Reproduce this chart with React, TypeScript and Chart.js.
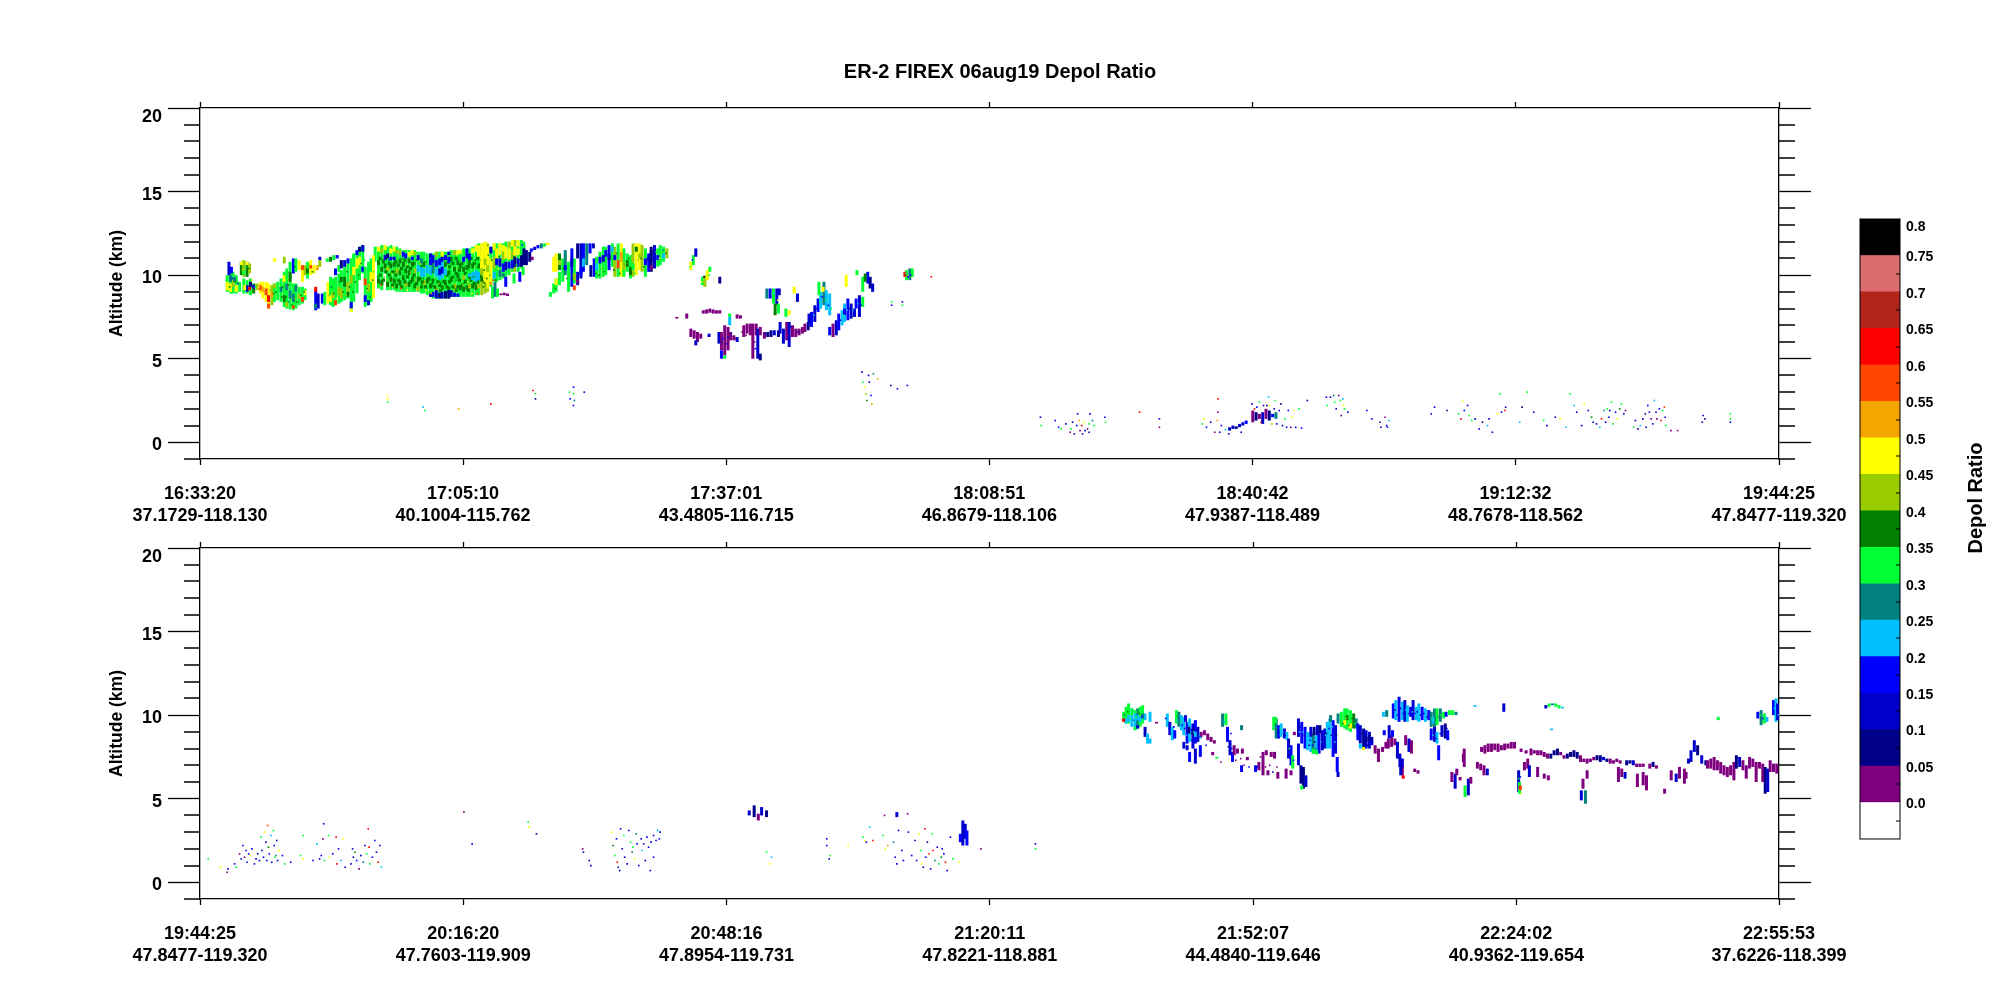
import { useEffect, useRef } from 'react';
import { Chart, registerables } from 'chart.js';

Chart.register(...registerables);

// [minutes since panel start, altitude low km, altitude high km, depol ratio]
type Cell = [number, number, number, number];
// [minutes since panel start, altitude km, depol ratio]
type Speck = [number, number, number];

const FONT = '"Liberation Sans", Arial, sans-serif';

const depolEdges = [-0.05, 0, 0.05, 0.1, 0.15, 0.2, 0.25, 0.3, 0.35, 0.4, 0.45, 0.5, 0.55, 0.6, 0.65, 0.7, 0.75, 0.8];
const depolColors = ['#ffffff', '#7f007f', '#00008b', '#0000cd', '#0000ff', '#00bfff', '#008080', '#00ff33', '#007f00', '#9acd00', '#ffff00', '#f5a500', '#ff4500', '#ff0000', '#b0241a', '#dc6b6b', '#000000'];
const depolTickLabels = ['0.0', '0.05', '0.1', '0.15', '0.2', '0.25', '0.3', '0.35', '0.4', '0.45', '0.5', '0.55', '0.6', '0.65', '0.7', '0.75', '0.8'];

const topTickMinutes = [0, 31.83, 63.68, 95.52, 127.37, 159.2, 191.08];
const topTimes = ['16:33:20', '17:05:10', '17:37:01', '18:08:51', '18:40:42', '19:12:32', '19:44:25'];
const topPositions = ['37.1729-118.130', '40.1004-115.762', '43.4805-116.715', '46.8679-118.106', '47.9387-118.489', '48.7678-118.562', '47.8477-119.320'];

const bottomTickMinutes = [0, 31.92, 63.85, 95.77, 127.7, 159.62, 191.47];
const bottomTimes = ['19:44:25', '20:16:20', '20:48:16', '21:20:11', '21:52:07', '22:24:02', '22:55:53'];
const bottomPositions = ['47.8477-119.320', '47.7603-119.909', '47.8954-119.731', '47.8221-118.881', '44.4840-119.646', '40.9362-119.654', '37.6226-118.399'];

const altitudeMajor = [0, 5, 10, 15, 20];
const altitudeMinor = [-1, 1, 2, 3, 4, 6, 7, 8, 9, 11, 12, 13, 14, 16, 17, 18, 19];

const westCells: Cell[] = [
  [3.3,9.0,10.0,.33],[3.7,8.9,10.3,.33],[4.0,8.9,10.2,.33],[4.4,8.9,10.0,.33],[4.8,9.0,9.6,.33],
  [3.5,10.0,10.8,.13],[3.8,10.1,10.5,.18],[3.3,9.1,9.6,.48],[3.7,9.0,9.5,.48],[4.0,9.3,9.7,.43],[4.4,9.0,9.4,.48],[3.7,9.6,10.0,.28],[4.2,9.6,9.9,.28],
  [5.0,10.0,10.8,.38],[5.3,9.9,10.9,.43],[5.7,9.9,10.8,.38],[6.0,10.1,10.7,.43],[5.0,10.6,10.8,.48],[5.7,10.6,10.8,.48],[5.3,10.0,10.3,.33],
  [5.3,8.9,9.8,.33],[5.7,8.9,9.7,.33],[6.1,8.8,9.8,.33],[6.5,8.9,9.5,.38],[6.9,9.1,9.5,.43],
  [5.7,9.0,9.4,.13],[6.0,9.1,9.3,.63],[6.1,9.3,9.6,.08],[5.4,9.1,9.4,.48],[6.5,9.2,9.4,.18],
  [7.3,8.9,9.6,.48],[7.6,8.6,9.6,.48],[8.0,8.4,9.6,.48],[8.3,8.0,9.5,.48],[8.7,8.2,9.4,.43],[9.0,8.4,9.5,.33],[9.4,8.5,9.6,.33],[9.8,8.4,9.8,.33],
  [7.3,9.1,9.4,.58],[7.6,9.0,9.3,.53],[8.0,8.8,9.2,.58],[8.3,8.4,8.8,.63],[8.3,8.0,8.3,.58],[8.7,8.7,9.0,.53],[9.0,9.2,9.5,.43],
  [10.2,8.1,10.2,.33],[10.5,8.0,10.4,.33],[10.9,7.95,10.8,.33],[11.3,7.9,9.5,.33],[11.3,10.1,11.0,.18],[11.6,8.0,9.5,.33],[11.6,10.2,11.0,.33],[12.0,8.2,9.3,.33],[12.0,10.3,10.9,.48],[12.4,8.3,9.3,.33],[12.4,9.6,10.6,.48],[12.7,8.5,9.2,.33],
  [10.2,9.6,10.0,.48],[10.5,9.1,9.5,.28],[10.9,8.6,9.1,.28],[11.3,8.4,8.9,.28],[11.6,9.0,9.4,.28],[10.9,9.6,10.2,.38],[10.2,8.4,8.8,.38],[12.0,8.6,8.9,.43],[10.5,8.1,8.4,.43],[11.3,8.0,8.2,.58],[12.4,8.4,8.7,.58],[12.7,8.8,9.1,.48],[9.8,9.0,9.3,.28],
  [13.0,9.8,10.8,.33],[13.4,10.0,10.9,.48],[13.8,10.1,10.6,.48],[14.2,10.3,10.6,.53],[14.5,10.5,10.9,.43],[12.7,10.0,10.6,.43],[13.0,10.1,10.4,.38],[12.4,10.3,10.6,.58],[13.4,10.4,10.6,.58],
  [9.0,10.8,11.0,.48],[10.2,10.7,11.1,.43],[14.5,10.9,11.1,.13],
  [15.4,10.8,11.0,.33],[15.8,10.8,11.1,.38],[16.2,10.9,11.2,.33],[16.6,11.0,11.2,.18],
  [14.0,7.9,9.1,.18],[14.3,8.0,8.9,.13],[14.0,8.0,8.3,.28],[14.0,9.0,9.3,.63],
];

const fanCells: Cell[] = [
  [14.8,8.3,8.9,.18],[15.1,8.2,9.0,.33],[15.5,8.3,9.6,.48],[15.8,8.2,9.9,.33],[16.1,8.1,9.8,.33],[16.4,8.2,9.9,.33],[16.8,8.3,10.1,.33],[17.1,8.4,10.3,.33],[17.5,8.5,10.5,.33],[17.9,8.6,10.9,.33],[18.3,7.8,11.0,.33],[18.6,8.4,11.2,.33],[19.0,8.9,11.4,.33],[19.3,9.7,11.7,.33],[19.7,10.1,11.8,.33],
  [15.8,8.4,8.8,.48],[16.1,8.6,9.0,.43],[16.4,8.2,8.5,.58],[16.8,8.8,9.3,.43],[17.1,8.6,9.2,.43],[17.5,9.3,9.9,.38],[17.9,9.0,9.6,.43],[18.3,9.5,10.0,.43],[18.6,10.0,10.5,.48],[19.0,10.4,11.0,.48],[19.3,10.6,11.1,.48],[17.9,8.7,9.0,.38],[17.1,9.6,9.9,.38],
  [16.4,10.0,10.4,.18],[16.8,10.2,10.6,.33],[17.1,10.4,10.9,.08],[17.5,10.5,10.9,.13],[17.9,10.7,11.0,.18],[18.3,8.0,8.4,.18],[18.3,7.8,8.0,.48],[18.6,11.0,11.3,.33],[19.3,11.4,11.7,.08],[19.7,11.4,11.8,.13],[19.0,11.2,11.5,.18],[19.7,10.2,10.5,.18],
  [20.0,8.1,10.5,.33],[20.4,8.2,10.8,.33],[20.7,8.4,11.0,.33],[21.0,8.6,11.2,.48],[20.0,8.4,8.8,.18],[20.4,9.0,9.5,.43],[20.7,9.6,10.2,.48],[20.4,8.2,8.5,.13],[20.0,9.4,9.8,.58],
];

const bodyCells: Cell[] = [
  [21.2,10.8,11.7,.33],[21.6,9.2,11.7,.33],[22.0,9.1,11.8,.33],[22.4,10.1,11.8,.33],[22.7,9.1,11.7,.33],[23.1,9.1,11.8,.33],[23.5,9.1,11.7,.33],[23.8,9.0,11.7,.33],[24.2,9.0,11.6,.33],[24.6,9.0,11.5,.33],[24.9,9.0,11.5,.33],[25.3,9.0,11.5,.33],[25.7,9.0,11.5,.33],[26.0,9.0,11.5,.33],[26.4,9.0,11.4,.33],[26.8,8.9,11.4,.33],[27.1,8.9,11.4,.33],[27.5,8.8,11.3,.33],[27.9,8.7,11.3,.33],[28.2,8.6,11.3,.33],[28.6,8.6,11.4,.33],[29.0,8.6,11.4,.33],[29.3,8.6,11.4,.33],[29.7,8.6,11.4,.33],[30.1,8.6,11.4,.33],[30.4,8.7,11.5,.33],[30.8,8.7,11.5,.33],[31.2,8.7,11.5,.33],[31.5,8.7,11.5,.33],[31.9,8.7,11.6,.33],[32.3,8.7,11.6,.33],[32.6,8.7,11.6,.33],[33.0,8.7,11.7,.33],[33.4,8.8,11.8,.33],[33.7,8.8,11.9,.33],[34.1,8.8,11.9,.43],[34.5,8.9,12.0,.43],[34.8,9.0,11.9,.43],[35.2,9.3,11.7,.33],[35.6,9.6,11.9,.33],[35.9,9.6,11.9,.33],[36.3,9.7,11.9,.33],[36.7,9.8,11.9,.33],[37.0,9.9,12.0,.33],[37.4,10.0,12.0,.33],[37.8,10.2,12.1,.33],[38.1,10.2,12.1,.43],[38.5,10.2,12.1,.33],[38.9,10.4,12.1,.33],[39.2,10.6,12.0,.33],
  // upper edge
  [21.6,11.4,11.7,.48],[22.0,11.3,11.6,.43],[22.4,11.5,11.8,.48],[23.1,11.3,11.6,.48],[23.5,11.4,11.7,.48],[23.8,11.3,11.5,.43],[24.2,11.2,11.5,.43],[25.3,11.1,11.4,.48],[25.7,11.2,11.5,.48],[26.0,11.2,11.4,.43],[24.6,11.1,11.4,.18],[24.9,11.0,11.3,.18],[22.7,11.0,11.3,.08],[23.5,10.9,11.1,.13],[27.9,11.0,11.3,.13],[28.2,11.0,11.2,.18],[28.6,11.1,11.4,.43],[29.3,11.1,11.4,.48],[30.1,11.2,11.4,.13],[30.8,11.2,11.5,.43],[31.2,11.2,11.5,.48],[31.5,11.3,11.5,.48],[32.3,11.3,11.6,.18],[33.0,11.3,11.6,.48],[33.4,11.4,11.8,.48],[35.6,11.5,11.9,.48],[36.3,11.5,11.9,.48],[36.7,11.4,11.8,.48],[37.4,11.6,12.0,.43],[37.8,11.7,12.1,.48],[38.5,11.7,12.1,.48],
  // dark green weave
  [21.6,9.5,9.8,.38],[21.6,10.6,10.9,.38],[22.0,9.4,9.7,.38],[22.0,10.2,10.5,.38],[22.4,10.4,10.7,.38],[22.7,9.3,9.6,.38],[22.7,10.2,10.5,.43],[23.1,10.4,10.7,.38],[23.1,9.6,9.9,.38],[23.5,9.5,9.8,.38],[23.5,10.5,10.8,.38],[23.8,10.1,10.4,.43],[23.8,9.2,9.5,.38],[24.2,9.4,9.7,.38],[24.2,10.7,11.0,.38],[24.2,10.0,10.3,.38],[24.6,9.7,10.0,.38],[24.6,10.5,10.8,.38],[24.9,9.3,9.6,.43],[24.9,10.1,10.4,.38],[25.3,10.0,10.3,.38],[25.3,9.3,9.6,.38],[25.3,10.7,11.0,.38],[25.7,9.6,9.9,.38],[25.7,10.5,10.8,.38],[26.0,9.2,9.5,.38],[26.0,10.1,10.4,.43],[26.4,9.6,9.9,.38],[26.4,9.1,9.3,.43],[26.8,9.2,9.5,.38],[26.8,10.3,10.6,.38],[27.1,10.5,10.8,.38],[27.1,9.4,9.7,.43],[27.5,9.5,9.8,.38],[27.9,9.2,9.5,.38],[28.2,9.5,9.8,.38],[28.6,9.0,9.3,.43],[29.0,9.3,9.6,.38],[29.3,9.1,9.4,.38],
  [29.7,9.4,9.7,.38],[29.7,10.5,10.8,.38],[30.1,9.0,9.3,.38],[30.1,10.0,10.3,.38],[30.4,9.6,9.9,.38],[30.4,10.8,11.1,.38],[30.8,9.2,9.5,.43],[30.8,10.2,10.5,.38],[31.2,9.8,10.1,.38],[31.2,9.2,9.4,.38],[31.2,10.6,10.9,.38],[31.5,9.1,9.4,.38],[31.5,10.4,10.7,.38],[31.9,9.7,10.0,.43],[31.9,9.0,9.3,.38],[31.9,10.2,10.5,.38],[32.3,10.3,10.6,.38],[32.3,9.1,9.4,.38],[32.6,9.8,10.1,.38],[32.6,10.6,10.9,.38],[32.6,9.2,9.5,.43],[33.0,9.2,9.5,.38],[33.0,10.4,10.7,.38],[33.4,9.9,10.2,.38],[33.4,9.1,9.4,.38],[33.7,10.4,10.7,.38],[33.7,9.2,9.5,.43],[34.1,9.6,9.9,.38],
  // second weave, offset between the columns above
  [21.8,9.9,10.1,.38],[21.8,10.9,11.1,.38],[22.2,9.6,9.8,.38],[22.2,10.7,10.9,.38],[22.5,10.1,10.3,.38],[22.9,9.9,10.1,.38],[22.9,10.6,10.8,.38],[23.3,9.3,9.5,.38],[23.3,10.1,10.3,.38],[23.7,9.9,10.1,.38],[23.7,10.7,10.9,.38],[24.0,9.6,9.8,.38],[24.0,10.5,10.7,.38],[24.4,9.2,9.4,.38],[24.4,10.3,10.5,.38],[24.8,9.5,9.7,.38],[24.8,10.8,11.0,.38],[25.1,9.8,10.0,.38],[25.1,10.4,10.6,.38],[25.5,9.5,9.7,.38],[25.5,10.3,10.5,.38],[25.9,9.9,10.1,.38],[25.9,10.6,10.8,.38],[26.2,9.4,9.6,.38],[26.6,9.7,9.9,.38],[26.9,9.5,9.7,.38],[27.3,9.2,9.4,.38],[27.7,9.7,9.9,.38],[28.0,9.3,9.5,.38],[28.4,9.2,9.4,.38],[28.8,9.5,9.7,.38],[29.1,9.0,9.2,.38],[29.5,9.5,9.7,.38],[29.9,9.2,9.4,.38],[29.9,9.9,10.1,.38],[30.2,9.5,9.7,.38],[30.2,10.4,10.6,.38],[30.6,9.2,9.4,.38],[30.6,9.8,10.0,.38],[30.6,10.6,10.8,.38],[31.0,9.0,9.2,.38],[31.0,10.0,10.2,.38],[31.0,10.9,11.1,.38],[31.4,9.6,9.8,.38],[31.4,10.2,10.4,.38],[31.7,9.3,9.5,.38],[31.7,10.6,10.8,.38],[32.1,9.5,9.7,.38],[32.1,10.0,10.2,.38],[32.5,9.0,9.2,.38],[32.5,10.4,10.6,.38],[32.8,9.6,9.8,.38],[32.8,10.9,11.1,.38],[33.2,9.4,9.6,.38],[33.2,10.6,10.8,.38],[33.6,9.5,9.7,.38],[33.6,10.9,11.1,.38],[33.9,9.9,10.1,.38],[34.3,9.5,9.7,.38],[34.7,9.3,9.5,.38],
  // west cyan and blue
  [26.4,10.2,10.6,.23],[26.8,9.9,10.5,.23],[27.1,9.9,10.4,.23],[27.5,10.1,10.6,.23],[27.9,10.0,10.5,.23],[28.2,10.1,10.7,.28],[28.6,9.9,10.4,.23],[29.0,9.7,10.6,.23],[29.3,9.8,10.8,.23],[29.7,10.0,10.4,.23],
  [27.9,10.6,11.0,.18],[28.2,10.7,11.0,.13],[28.6,10.5,10.9,.18],[29.0,10.6,11.0,.18],[29.3,10.8,11.1,.13],[29.7,10.9,11.2,.18],[30.1,10.7,11.1,.18],[29.0,10.0,10.4,.13],[29.3,10.1,10.5,.13],
  [22.4,10.9,11.2,.13],[23.1,10.9,11.1,.18],[25.7,10.9,11.1,.18],[26.4,10.9,11.2,.13],[26.8,10.7,11.0,.28],[31.9,10.8,11.1,.18],[32.3,11.0,11.3,.13],[32.6,10.9,11.3,.18],
  // bottom navy
  [28.6,8.6,9.1,.13],[29.0,8.6,8.95,.08],[29.3,8.6,9.0,.13],[29.7,8.6,9.05,.08],[30.1,8.6,9.1,.08],[30.4,8.7,9.1,.13],[30.8,8.7,8.95,.18],[31.2,8.7,8.9,.18],[28.2,8.7,9.0,.18],[27.9,8.7,8.9,.13],
  [33.0,9.7,10.2,.23],[33.4,9.6,10.3,.23],[33.7,9.7,10.2,.23],[32.6,9.9,10.1,.23],
  // yellow diagonal
  [33.7,11.1,11.8,.48],[34.1,10.4,11.9,.48],[34.5,9.6,12.0,.48],[34.8,9.2,11.7,.48],[35.2,9.6,11.0,.48],[35.6,10.4,11.1,.43],[34.1,9.2,9.6,.43],[34.5,9.1,9.4,.43],[34.8,10.2,10.6,.43],[34.1,10.0,10.4,.43],[34.5,10.6,11.0,.43],[35.2,9.4,9.6,.53],
  [35.9,11.0,11.6,.48],[36.3,11.2,11.5,.48],[36.7,10.9,11.4,.43],[37.0,11.0,11.7,.48],[37.4,10.9,11.6,.48],[37.8,11.0,11.5,.43],[38.1,11.2,11.7,.48],[38.5,11.2,11.6,.48],
  // upper blue
  [35.2,11.3,11.7,.13],[35.9,10.6,11.0,.18],[36.3,10.5,11.0,.13],[36.7,10.2,10.7,.18],[37.0,10.3,10.8,.13],[37.4,10.4,10.8,.18],[37.8,10.4,10.9,.18],[38.1,10.5,11.1,.08],[38.5,10.5,11.0,.13],[38.9,10.5,11.2,.08],[39.2,10.6,11.6,.08],[39.5,10.6,11.5,.08],[39.9,10.8,11.4,.08],[40.2,10.9,11.1,.03],
  [35.9,10.0,10.4,.33],[36.3,9.9,10.3,.28],[35.6,9.8,10.2,.23],[36.7,9.9,10.1,.28],
  // drips
  [35.4,8.6,9.3,.33],[35.7,8.7,9.6,.28],[36.0,8.7,9.2,.33],[36.4,8.8,8.9,.03],[36.8,8.8,8.95,.03],[37.2,8.75,8.9,.03],[37.0,9.3,9.9,.18],[38.0,9.5,10.1,.33],[38.7,9.6,10.2,.18],[39.1,10.0,10.5,.33],
  // eastern strip
  [40.1,11.4,11.6,.18],[40.5,11.5,11.7,.13],[40.9,11.6,11.8,.18],[41.3,11.6,11.9,.28],[41.7,11.7,11.9,.33],[42.1,11.8,11.95,.48],
];

const bodyGrainSpecks: Speck[] = [
  [21.5,9.9,.38],[21.7,10.3,.33],[21.9,9.4,.58],[22.1,10.9,.38],[22.3,9.9,.43],[22.6,10.8,.33],[22.8,9.7,.43],[22.9,10.9,.18],[23.2,10.1,.43],[23.3,9.3,.53],[23.6,10.2,.38],[23.7,11.2,.33],[23.9,9.8,.33],[24.1,10.4,.43],[24.3,9.2,.58],[24.4,10.2,.33],[24.5,11.0,.38],[24.8,9.9,.33],[25.0,10.6,.43],[25.1,9.1,.48],[25.5,10.1,.43],[25.6,9.4,.33],[25.8,10.2,.33],[26.1,9.7,.43],[26.2,10.9,.38],[26.3,9.1,.53],[26.6,10.7,.43],[26.7,9.4,.33],[27,9.8,.38],[27.3,10.8,.38],[27.4,9.1,.48],[27.6,9.3,.33],[27.8,9.7,.38],[28,8.9,.53],[28.4,9.6,.33],[28.5,9.2,.38],[28.9,9.5,.43],[29.1,9.2,.33],[29.5,9.7,.38],[29.9,9.6,.33],[30,10.7,.38],[30.3,9.4,.33],[30.6,10.0,.33],[30.7,9.1,.43],[31,9.7,.38],[31.1,10.4,.43],[31.4,9.5,.33],[31.7,10.1,.33],[31.8,9.4,.43],[32.1,9.7,.38],[32.2,10.0,.33],[32.4,9.6,.48],[32.8,10.2,.33],[32.9,8.9,.48],[33.1,9.9,.38],[33.3,10.9,.38],[33.5,10.6,.33],[33.6,8.9,.58],[33.9,10.9,.43],[34.0,9.9,.38],[34.3,9.3,.38],[34.4,10.3,.38],[34.7,9.8,.38],[34.9,11.2,.38],[35.1,10.0,.43],[35.3,10.9,.38],[35.5,9.7,.58],[35.8,9.7,.38],[36.1,10.4,.48],[36.2,11.1,.38],[36.6,10.8,.33],[36.9,10.9,.33],[37.2,10.2,.33],[37.5,10.9,.33],[37.7,10.3,.43],[38.0,11.1,.38],[38.3,10.6,.33],[38.7,11.2,.33],[39.0,11.8,.18],
  [3.2,9.7,.33],[3.6,9.3,.38],[3.9,9.8,.18],[4.1,9.2,.33],[4.3,9.6,.38],[4.6,9.5,.18],[5.1,10.3,.43],[5.5,10.5,.33],[5.9,10.4,.38],[6.3,9.7,.48],[6.7,9.3,.33],[7.1,9.3,.48],[8.5,9.1,.43],[8.9,8.9,.38],[9.2,9.0,.38],[9.6,9.1,.33],[9.9,8.7,.38],[10.0,9.3,.38],[10.4,8.7,.38],[10.4,9.9,.33],[10.7,8.4,.28],[10.7,9.4,.38],[11.1,8.2,.38],[11.1,9.4,.33],[11.5,8.6,.43],[11.5,10.5,.38],[11.8,8.4,.38],[11.8,9.1,.33],[12.2,8.8,.38],[12.6,9.0,.28],[13.2,10.6,.43],[13.6,10.2,.38],[14.1,10.5,.48],
  [15.6,8.8,.43],[15.9,9.3,.38],[16.2,8.9,.38],[16.3,9.5,.33],[16.6,8.6,.48],[16.9,9.6,.38],[17.3,9.0,.38],[17.7,8.8,.43],[17.8,10.2,.38],[18.1,9.3,.38],[18.2,8.7,.33],[18.5,9.0,.38],[18.8,9.6,.38],[19.2,10.0,.38],[19.5,10.7,.38],[19.9,10.9,.33],[20.2,9.2,.38],[20.5,10.2,.33],[20.6,8.7,.38],[20.9,9.7,.38],[21.0,10.2,.33],
  [43,9.2,.38],[43.4,9.9,.43],[44,10.4,.38],[44.4,9.8,.38],[44.8,10.0,.33],[45.1,9.8,.38],[47.9,10.1,.38],[48.3,10.0,.38],[48.6,10.4,.43],[48.9,10.2,.38],[49.3,10.4,.33],[49.7,11.0,.38],[50.1,10.3,.38],[50.4,11.3,.38],[50.8,10.1,.38],[51.2,10.2,.33],[51.5,10.7,.33],[51.9,11.0,.38],[52.3,10.7,.33],[52.6,10.1,.33],[53,10.9,.43],[53.4,11.0,.38],[53.7,10.5,.38],[55.2,11.4,.33],[55.6,11.0,.48],[56,11.5,.28],[56.4,11.3,.38],
];

const finCells: Cell[] = [
  [42.4,8.7,9.0,.33],[42.8,8.9,9.5,.33],[42.8,10.2,11.1,.48],[43.1,9.0,9.8,.33],[43.1,10.2,11.3,.48],[43.5,9.4,10.2,.33],[43.5,10.3,11.3,.38],[43.9,9.6,11.0,.33],[44.2,10.0,11.5,.28],[44.6,9.0,10.8,.33],[45.0,9.3,11.6,.18],[45.3,9.5,11.0,.33],[45.7,9.4,10.2,.13],[45.7,11.0,11.9,.08],[46.1,9.8,11.9,.13],[46.4,10.2,11.9,.18],[46.8,10.6,11.9,.28],[47.2,11.3,11.9,.18],[47.6,11.6,11.9,.13],
  [43.1,9.4,9.8,.48],[43.5,10.6,10.9,.43],[44.2,10.3,10.6,.18],[45.0,10.5,11.0,.13],[45.3,9.7,10.1,.43],[45.7,9.5,9.7,.03],[45.3,9.1,9.4,.58],[46.1,10.0,10.4,.18],[46.4,10.5,11.0,.23],
  [47.3,9.9,10.6,.08],[47.7,9.9,11.0,.18],[48.0,9.8,11.1,.33],[48.4,9.8,11.4,.33],[48.8,9.9,11.7,.33],[49.1,10.0,11.7,.33],[49.5,10.3,11.8,.18],[49.9,10.5,11.9,.33],[50.2,9.9,11.7,.43],[50.6,9.9,11.9,.33],[51.0,9.9,11.9,.48],[51.3,9.9,11.6,.33],[51.7,10.2,11.3,.33],[52.1,9.8,11.2,.33],[52.4,9.9,11.9,.43],[52.8,10.0,11.9,.48],[53.2,10.3,11.9,.48],[53.5,10.2,11.8,.43],[53.9,9.9,11.6,.33],[54.3,10.2,11.3,.18],[54.6,10.2,11.7,.08],[55.0,10.4,11.8,.13],[55.4,10.5,11.6,.33],[55.7,10.6,11.8,.33],[56.1,10.8,11.7,.33],[56.5,11.0,11.6,.43],
  [48.0,10.3,10.7,.23],[48.4,10.7,11.1,.18],[48.8,10.8,11.2,.13],[49.1,11.1,11.5,.18],[49.5,10.9,11.3,.13],[49.9,11.4,11.7,.23],[50.6,10.4,10.9,.58],[51.0,10.8,11.4,.53],[50.2,10.9,11.2,.18],[51.3,10.3,10.8,.43],[51.7,10.5,10.9,.38],[52.1,10.0,10.5,.38],[52.4,10.3,10.7,.33],[52.8,11.4,11.7,.38],[53.2,11.0,11.3,.43],[53.9,10.6,11.0,.18],[54.3,10.8,11.1,.13],[54.6,10.8,11.5,.08],[55.0,10.7,11.2,.13],[54.6,10.3,10.6,.03],[55.4,10.9,11.2,.18],[56.1,11.0,11.3,.23],
];

const midCloudCells: Cell[] = [
  // small fins
  [59.4,10.3,10.8,.48],[59.7,10.6,11.2,.33],[60.0,11.1,11.6,.13],[60.8,9.4,9.9,.33],[61.1,9.3,10.0,.43],[61.4,9.7,10.3,.48],[61.7,10.2,10.5,.33],[62.9,9.5,9.9,.08],
  // purple lower deck
  [57.7,7.4,7.5,.03],[58.9,7.4,7.7,.03],[60.9,7.7,7.9,.03],[61.3,7.7,7.95,.03],[61.7,7.75,8.0,.03],[62.1,7.7,7.95,.03],[62.5,7.7,7.9,.03],[62.9,7.7,7.9,.03],
  [59.4,6.3,6.8,.03],[59.8,6.2,6.7,.03],[60.2,6.0,6.6,.03],[60.6,6.2,6.5,.03],[60.0,5.8,6.1,.13],[61.6,6.3,6.5,.13],
  [62.8,5.9,6.6,.13],[63.1,5.5,6.6,.03],[63.5,5.2,7.0,.03],[63.9,5.5,6.9,.03],[64.2,6.1,6.6,.03],[64.6,6.1,6.4,.03],[65.0,6.0,6.3,.13],[63.1,5.0,5.5,.18],[63.5,5.0,5.2,.33],[64.1,7.0,7.5,.23],[64.1,7.5,7.7,.33],
  [65.0,7.4,7.65,.03],[65.4,7.4,7.6,.03],
  [65.8,6.3,7.0,.03],[66.2,6.5,7.1,.03],[66.6,6.4,7.1,.03],[66.9,5.0,7.1,.03],[67.3,6.4,7.1,.03],[67.5,5.0,6.8,.13],[67.8,6.4,6.9,.03],[67.8,4.9,5.3,.08],
  [68.3,6.2,6.6,.03],[68.7,6.3,6.6,.08],[69.1,6.3,6.7,.08],[69.5,6.4,6.7,.13],[70.0,6.3,6.7,.08],[70.2,6.5,7.2,.13],[70.6,5.9,6.8,.13],
  [71.0,6.1,7.2,.03],[71.3,5.7,7.2,.13],[71.7,6.3,7.0,.03],[72.1,6.3,6.8,.03],[72.5,6.4,6.8,.03],[72.9,6.5,6.9,.03],[73.2,6.6,7.1,.03],[73.6,6.7,7.2,.08],
  // rising blue and cyan
  [74.0,6.9,7.8,.18],[74.4,7.2,8.2,.13],[74.8,7.8,8.6,.18],[73.7,7.0,7.7,.13],[75.1,8.0,9.0,.23],[75.5,8.2,9.6,.28],[75.8,7.9,9.1,.23],[76.2,7.6,8.9,.23],[74.9,8.8,9.6,.33],[75.4,9.0,9.3,.48],
  [76.6,6.3,7.1,.03],[77.0,6.4,7.3,.13],[77.3,6.7,7.7,.18],[77.7,7.0,7.9,.23],[78.0,7.2,8.3,.23],[78.4,7.3,8.6,.18],[78.8,7.4,8.3,.13],[79.2,7.5,8.0,.13],[76.2,6.4,6.9,.18],[78.0,7.6,8.0,.18],
  [79.4,8.0,8.6,.18],[79.8,7.5,8.8,.13],[80.2,8.1,8.7,.33],[79.5,10.0,10.3,.33],[80.8,9.5,10.2,.18],[81.1,9.2,9.9,.08],[81.4,9.0,9.5,.13],[78.2,9.3,10.0,.48],[80.2,9.0,9.9,.33],[80.5,9.6,10.1,.38],
  [68.6,8.6,9.2,.28],[69.0,8.6,9.2,.18],[69.4,8.3,9.2,.33],[69.8,8.2,9.2,.13],[70.1,8.8,9.2,.13],[69.6,7.6,8.3,.38],[70.0,7.7,8.3,.33],[70.9,7.5,8.0,.33],[71.3,7.6,7.9,.48],[71.9,8.9,9.3,.48],[72.3,8.4,8.9,.13],
  [85.5,9.7,10.3,.33],[85.9,9.7,10.4,.28],[86.2,9.9,10.4,.33],[85.3,9.9,10.2,.63],
];

const midGrainSpecks: Speck[] = [
  [59.3,10.5,.33],[59.6,10.9,.18],[60.7,9.6,.48],[61,9.9,.13],[61.6,10.0,.33],[63.1,6.0,.13],[63.3,6.2,.18],[63.7,5.9,.13],[63.9,6.3,.13],[64.3,6.5,.13],[64.8,6.2,.03],[65.6,6.6,.03],[66.1,6.4,.03],[67.1,6.0,.03],[67.2,5.6,.18],[68.4,6.5,.13],[71.2,6.4,.03],[71.5,6.9,.13],[72.3,6.6,.13],[74.3,7.6,.23],[74.6,8.0,.13],[75,8.4,.33],[75.3,8.7,.18],[75.7,8.5,.33],[76,8.2,.18],[76.4,8.0,.33],[77.5,7.3,.13],[77.9,7.6,.33],[78.3,7.9,.23],[78.6,8.0,.08],[79,7.9,.23],[79.6,8.3,.23],[80,8.2,.18],[69.2,8.9,.33],[69.5,8.9,.23],[69.9,8.5,.48],[85.4,10.1,.33],[85.7,9.9,.18],[86,10.0,.13],[88.5,9.9,.63],[85,8.4,.13],[85,8.2,.33],[83.7,8.4,.33],[83.7,8.2,.18],
];

const nearWestClusterSpecks: Speck[] = [
  [22.7,2.4,.33],[22.7,2.6,.48],[22.7,2.8,.48],[27,2.1,.23],[27.2,1.9,.33],[31.3,2.0,.53],[35.2,2.3,.63],[40.3,3.1,.63],[40.6,2.9,.33],[40.6,2.6,.08],[44.7,3.0,.33],[44.8,2.6,.18],[45.2,3.3,.18],[45.2,2.9,.33],[45.3,2.5,.28],[45.2,2.2,.18],[46.5,3.0,.13],
  [80.1,4.2,.13],[80.2,3.6,.33],[80.4,3.3,.48],[80.6,2.9,.43],[80.9,4.0,.13],[81.0,3.6,.13],[81.2,2.8,.18],[81.3,2.3,.53],[81.5,4.1,.28],[80.7,2.5,.38],[82.0,3.8,.53],[83.6,3.4,.08],[84.4,3.2,.13],[85.6,3.4,.13],
  [101.7,1.5,.13],[101.8,1.0,.33],[103.5,1.3,.18],[103.9,0.9,.18],[104.2,0.8,.33],[104.8,1.1,.13],[105.3,0.6,.03],[105.4,0.8,.33],[105.6,1.2,.13],[105.8,0.5,.13],[106.1,1.0,.18],[106.2,1.7,.13],[106.4,1.3,.53],[106.5,0.7,.03],[106.7,1.0,.63],[106.8,0.5,.13],[107.0,1.2,.48],[107.1,0.7,.13],[107.4,0.8,.03],[107.6,1.1,.33],[107.6,0.6,.08],[107.7,1.7,.13],[108.0,1.3,.28],[108.2,1.0,.33],[109.5,1.5,.13],[109.6,1.2,.33],
  [113.7,1.8,.63],[116.1,1.4,.13],[116.1,0.9,.03],[121.3,1.1,.33],[121.5,1.4,.48],[121.8,0.9,.18],[122.3,1.2,.13],[122.8,0.6,.03],[123.1,1.3,.53],[123.2,2.6,.63],[123.2,1.8,.03],[123.6,1.0,.18],
];

const nearCoreCells: Cell[] = [
  [127.4,1.2,1.9,.03],[127.8,1.3,1.8,.08],[128.2,1.4,1.7,.03],[128.6,1.1,1.8,.13],[129.0,1.4,2.0,.03],[129.4,1.3,1.9,.08],[129.8,1.5,1.7,.18],[130.2,1.4,1.8,.28],
  [124.6,0.7,0.9,.13],[125.0,0.8,1.0,.13],[125.4,0.8,0.95,.08],[125.8,0.9,1.1,.13],[126.2,1.0,1.2,.13],[126.6,1.1,1.3,.18],
];

const farEastSpecks: Speck[] = [
  [123.4,0.6,.13],[124.1,0.75,.23],[124.5,0.5,.13],[126,0.6,.13],[127.3,2.3,.13],[127.6,2.0,.63],[127.9,2.1,.18],[128.2,2.4,.33],[128.4,1.2,.63],[128.7,2.2,.13],[129.1,2.2,.08],[129.3,2.7,.23],[129.4,2.2,.48],[129.7,1.1,.43],[130,2.0,.13],[130.1,2.5,.33],[130.3,1.1,.13],[130.6,1.9,.13],[130.8,2.3,.08],[131,1.0,.13],[131.3,1.4,.33],[131.5,0.9,.13],[131.7,1.9,.18],[132,0.9,.03],[132.2,1.5,.48],[132.4,1.9,.48],[132.6,0.9,.13],[133,2.0,.33],[133.3,0.85,.18],[134,2.5,.13],
  [136.3,2.7,.18],[136.4,2.2,.33],[136.8,2.7,.13],[137.2,2.8,.28],[137.3,2.4,.33],[137.5,2.0,.13],[137.8,2.8,.03],[138,2.5,.33],[138.1,1.6,.03],[138.3,2.6,.23],[138.4,2.2,.48],[138.5,2.0,.33],[138.9,1.8,.13],[141.2,1.9,.13],[141.8,1.4,.13],[142.8,1.2,.13],[143.4,1.5,.03],[143.6,1.0,.13],[143.7,0.9,.13],[143.9,1.3,.23],[142.9,0.9,.13],
  [149,1.7,.13],[149.4,2.1,.13],[150.9,1.9,.08],[152.3,1.7,.33],[152.6,1.4,.63],[152.8,2.5,.48],[153,1.9,.18],[153.4,2.2,.13],[153.6,1.6,.33],[153.9,1.3,.33],[154.3,1.4,.13],[154.8,0.8,.13],[155.2,1.2,.08],[155.8,1.0,.23],[156,1.4,.13],[156.4,0.6,.13],
  [157,1.7,.48],[157.3,2.9,.33],[157.5,1.8,.13],[157.9,1.9,.63],[158,2.1,.13],[159.7,1.2,.23],[160,2.1,.08],[160.6,3.0,.33],
  [161.4,1.8,.13],[162.6,1.3,.33],[163,1.0,.13],[164,1.5,.13],[164.6,1.4,.48],[165.3,0.9,.23],[165.8,2.9,.33],[166.3,2.2,.23],[166.6,1.8,.13],[167.2,1.0,.13],[167.5,2.3,.48],[168,1.9,.13],[168.4,1.5,.38],[168.6,1.2,.13],
  [169,1.1,.13],[169.4,0.9,.23],[169.6,1.4,.63],[169.9,1.9,.28],[170.1,1.2,.13],[170.3,2.0,.33],[170.5,1.5,.18],[170.6,1.9,.13],[170.8,2.4,.33],[171,1.1,.33],[171.3,1.8,.13],[171.5,1.4,.48],[171.8,2.0,.38],[172.0,2.3,.33],[172.3,1.7,.18],[172.5,1.9,.03],
  [173.5,0.9,.33],[173.7,1.3,.13],[174,0.8,.08],[174.3,1.0,.23],[174.6,1.4,.13],[174.9,1.7,.08],[175,0.9,.13],[175.2,2.2,.18],[175.4,1.8,.13],[175.6,1.4,.03],[175.8,1.1,.13],[176,2.5,.23],[176.2,1.8,.13],[176.3,1.4,.03],[176.6,2.0,.18],[176.8,1.3,.63],[177.0,1.9,.33],[177.2,2.1,.58],[177.3,1.5,.18],[177.4,1.0,.33],
  [178,0.7,.03],[178.8,0.7,.03],[181.8,1.2,.13],[181.9,1.6,.13],[182.1,1.4,.08],[185.2,1.7,.33],[185.2,1.4,.33],[185.2,1.2,.13],
];

const lowWestSpecks: Speck[] = [
  [1,1.4,.33],[2.5,0.9,.48],[3.3,0.6,.03],[3.4,0.8,.13],[4.2,1.1,.18],[4.4,0.9,.33],[4.8,1.7,.03],[5,1.4,.13],[5.2,2.2,.13],[5.4,1.5,.03],[5.6,1.9,.18],[5.7,1.2,.13],[5.9,1.7,.18],[6.1,1.6,.48],[6.3,2.0,.13],[6.6,1.1,.13],[6.8,1.4,.18],[7,1.7,.13],[7.2,1.3,.18],[7.4,2.7,.33],[7.5,1.9,.13],[7.7,1.5,.18],[7.8,3.0,.48],[8,2.4,.13],[8.1,1.3,.18],[8.2,3.4,.58],[8.3,2.1,.38],[8.4,1.7,.18],[8.6,2.8,.23],[8.7,1.2,.13],[8.9,3.1,.33],[9,2.2,.18],[9.1,1.5,.33],[9.2,1.6,.28],[9.3,2.5,.13],[9.4,1.3,.13],[9.6,1.9,.48],[10,1.6,.18],[10.3,1.1,.33],[11,1.2,.13],[12.2,1.6,.33],[12.5,1.4,.48],[12.5,2.8,.33],
  [13.7,1.3,.13],[14.2,2.3,.23],[14.5,1.4,.13],[14.7,1.6,.18],[14.9,2.6,.03],[15,3.5,.13],[15.1,1.3,.33],[15.6,2.8,.33],[15.7,1.5,.48],[16.1,1.7,.18],[16.5,2.7,.63],[16.6,1.1,.63],[16.8,2.0,.13],[17.1,1.3,.23],[17.4,2.6,.48],[17.6,0.9,.13],[18.3,1.1,.13],[18.5,2.0,.13],[18.6,1.5,.13],[18.8,1.8,.38],[19,1.3,.18],[19.3,0.8,.03],[19.5,1.6,.13],[19.8,1.2,.28],[20,2.2,.13],[20.2,1.7,.33],[20.4,3.2,.63],[20.5,2.1,.63],[20.6,1.1,.33],[20.9,1.5,.18],[21.2,2.5,.18],[21.4,1.8,.13],[21.6,1.2,.63],[21.8,2.2,.13],[22,0.9,.23],
  [32,4.2,.03],[33,2.3,.13],[39.8,3.6,.33],[39.9,3.3,.48],[40.8,2.9,.13],
  [46.4,2.0,.03],[46.5,1.8,.13],[47.2,1.3,.13],[47.4,1.0,.13],[49.9,3.0,.48],[50.1,2.2,.38],[50.3,1.6,.33],[50.5,2.6,.13],[50.6,1.2,.63],[50.7,0.9,.13],[50.9,0.7,.13],[51,3.2,.13],[51.2,2.0,.18],[51.4,2.8,.33],[51.5,1.5,.13],[51.8,1.1,.18],[52,3.1,.13],[52.2,2.4,.33],[52.4,1.8,.38],[52.5,2.1,.33],[52.7,1.4,.48],[52.9,2.9,.28],[53,2.3,.18],[53.2,1.0,.13],[53.5,2.6,.13],[53.6,1.9,.23],[53.8,2.3,.13],[54,1.3,.13],[54.2,2.7,.18],[54.4,2.1,.13],[54.6,0.7,.13],[54.7,2.4,.18],[55,1.5,.13],[55,2.8,.18],[55.3,2.5,.13],[55.5,3.1,.23],[55.7,2.6,.18],[55.8,3.0,.13],
  [68.7,1.8,.33],[69.1,1.1,.48],[69.3,1.5,.23],
  [76,2.2,.13],[76,2.6,.13],[76.3,1.4,.13],[76.4,1.6,.33],[78.6,2.2,.48],[80.4,2.7,.33],[80.6,2.5,.48],[80.8,2.4,.18],[81.2,3.3,.23],[81.6,2.5,.63],[82.8,2.8,.33],[83,4.0,.03],[83.1,2.0,.48],[83.4,2.2,.53],[84.1,2.4,.28],[84.3,1.5,.13],[84.5,1.1,.18],[84.7,3.1,.13],[85.1,1.9,.13],[85.3,1.3,.13],[85.8,4.1,.03],[85.9,3.0,.13],[86.3,1.6,.18],[86.7,2.5,.13],[86.9,1.3,.13],[87.2,2.9,.48],[87.4,1.9,.33],[87.5,1.1,.48],[87.7,0.9,.13],[87.9,3.2,.63],[88,1.5,.18],[88.2,2.4,.13],[88.4,1.7,.58],[88.6,0.8,.13],[88.8,2.9,.33],[88.9,1.9,.63],[89.1,1.3,.28],[89.4,2.1,.13],[89.6,1.1,.33],[89.9,1.5,.38],[90,2.0,.13],[90.2,1.7,.18],[90.4,1.2,.63],[90.6,0.7,.13],[91,2.7,.13],[91.3,1.4,.33],[92,1.2,.48],[94.7,2.0,.03],[101.3,2.3,.13],[101.3,2.0,.33],
];

const lowWestCells: Cell[] = [
  [66.6,4.0,4.3,.13],[67.2,3.9,4.6,.08],[67.7,3.7,4.1,.03],[68.1,4.0,4.5,.13],[68.7,3.9,4.3,.08],
  [92.2,2.4,2.9,.18],[92.5,2.2,3.7,.13],[92.8,2.6,3.5,.13],[93,2.2,3.1,.18],[84.5,3.9,4.2,.13],
];

const eastBandCellsA: Cell[] = [
  [112,9.6,10.2,.33],[112.3,9.5,10.5,.33],[112.6,9.5,10.7,.33],[113,9.3,10.4,.23],[113.4,9.1,10.3,.23],[113.7,9.2,10.4,.28],[114,9.3,10.5,.33],[114.3,9.5,10.6,.33],[114.6,9.7,10.1,.23],
  [112.3,9.5,9.8,.23],[112.6,9.6,10.0,.23],[113,10.0,10.4,.33],[113.4,10.1,10.3,.33],[113.7,9.7,10.0,.23],[114,9.6,9.9,.23],[114.3,9.8,10.1,.28],[113.4,9.1,9.3,.33],[112,9.6,9.8,.63],[113.7,9.2,9.4,.13],
  [114.6,8.7,9.3,.13],[114.9,8.3,8.9,.23],[115.2,8.3,8.6,.23],[115.2,9.6,10.2,.23],[116,9.5,9.6,.03],
  [117.3,9.3,10.1,.23],[117.6,8.8,9.6,.13],[117.9,8.5,9.3,.23],[118.2,8.6,9.1,.18],
  [118.4,9.5,10.3,.33],[118.7,9.3,10.2,.28],[119,9.1,10.0,.23],[119.3,8.8,9.9,.23],[119.7,8.3,9.6,.18],[120,8.4,9.8,.23],[120.4,8.0,9.5,.13],[120.7,8.3,9.7,.18],[121,8.4,9.3,.13],[121.3,8.6,8.9,.23],
  [119.5,9.6,10.0,.13],[119.9,8.9,9.3,.08],[120.4,8.8,9.2,.08],[120.7,8.7,9.0,.23],[119.7,7.9,8.2,.13],[120,7.2,7.8,.18],[120.7,7.1,8.0,.13],[121.3,7.5,8.2,.18],[119.3,8.0,8.4,.13],
  [121.4,8.7,9.0,.03],[121.8,8.8,9.1,.03],[122.2,8.5,8.9,.03],[122.6,8.4,8.7,.03],[123,8.3,8.5,.03],[122.8,7.6,7.8,.03],[123.3,7.4,7.5,.33],
  [124,9.3,10.1,.28],[124.4,9.4,10.1,.33],[124.6,8.4,9.3,.18],[124.9,7.6,8.5,.13],[125.2,7.2,7.8,.18],[125.4,7.6,8.2,.03],[125.8,7.7,8.0,.03],[126.4,7.7,8.0,.03],[126.3,9.1,9.4,.28],[127,7.3,7.5,.03],[126.3,6.6,7.0,.18],
  [128,6.6,7.0,.18],[128.4,6.7,7.2,.03],[128.9,6.4,7.8,.03],[129.3,7.6,7.9,.03],[129.9,7.5,7.8,.03],[130.3,7.4,7.8,.03],[129.5,6.4,6.7,.03],[130.7,6.2,6.6,.03],
  [130.2,9.1,9.9,.33],[130.5,8.6,9.8,.28],[130.8,8.6,9.4,.18],[131.1,8.7,9.5,.23],[131.5,8.6,9.2,.13],[131.8,8.5,9.0,.23],[130.4,9.5,9.9,.33],
  [132,7.4,8.6,.13],[132.3,7.0,8.2,.18],[132.5,6.8,7.6,.33],[131.7,6.2,6.8,.03],[132.3,6.4,6.7,.03],[132.7,8.8,9.0,.03],
];

const eastBandCellsB: Cell[] = [
  [133.2,7.0,8.3,.13],[133.5,5.9,7.0,.08],[133.8,5.6,6.9,.08],[134.1,5.7,6.4,.13],[133.6,5.55,5.8,.33],
  [133.2,8.7,9.8,.13],[133.6,8.3,9.6,.18],[134,8.0,9.3,.18],[134.3,7.9,9.0,.23],[134.7,7.8,9.0,.23],[135,7.7,8.9,.28],[135.4,7.7,8.8,.23],[135.7,7.7,8.9,.18],[136.1,7.9,9.1,.13],
  [134.7,8.7,9.3,.13],[135.1,8.8,9.3,.08],[135.5,8.8,9.4,.13],[135.8,8.9,9.4,.08],[135,7.7,8.0,.33],[135.4,7.65,7.9,.33],[134.4,8.3,8.7,.23],
  [136.4,8.0,9.2,.13],[136.7,8.0,9.6,.23],[137,8.0,9.8,.23],[137.4,7.5,9.7,.18],[137.7,7.7,9.4,.13],[137.9,6.6,7.5,.18],[138,6.3,6.6,.13],[137.1,9.6,10.0,.28],
  [138,9.5,10.1,.28],[138.4,9.3,10.2,.33],[138.8,9.2,10.4,.33],[139.1,9.1,10.4,.33],[139.5,9.0,10.3,.33],[139.9,9.2,10.1,.38],[140.2,9.2,9.8,.28],[138.8,9.4,9.7,.48],[139.1,9.7,10.0,.38],[139.5,9.2,9.5,.48],
  [140.4,8.5,9.5,.18],[140.7,8.3,9.4,.13],[141.1,8.0,9.2,.08],[141.4,8.0,9.1,.13],[141.8,8.0,9.0,.13],[142.1,8.2,8.7,.13],[140.7,8.0,8.3,.23],[141.4,8.4,8.7,.08],[141.1,7.9,8.1,.48],[141.8,8.5,8.8,.08],
  [142.5,7.7,8.2,.03],[142.9,7.2,8.0,.03],[143.4,7.8,8.1,.03],[143.8,8.0,8.4,.03],[144.1,8.0,8.6,.03],[144.5,8.1,8.8,.03],[144.9,8.2,8.6,.03],[144.2,8.6,9.4,.13],[144.6,8.7,9.1,.18],[143.6,8.8,9.1,.18],
  [145.2,7.4,8.4,.13],[145.5,6.9,7.7,.13],[145.8,6.4,7.0,.03],[145.9,6.2,6.4,.63],[145.8,6.9,7.4,.13],
  [143.5,9.9,10.2,.23],[143.9,9.9,10.3,.28],[144.7,9.8,10.7,.18],[145,9.7,10.9,.23],[145.4,9.6,11.1,.18],[145.8,9.7,10.8,.23],[146.1,9.6,10.9,.13],[146.4,9.6,10.6,.23],[146.8,9.9,10.5,.18],[147.1,9.7,10.9,.13],[147.5,9.7,10.5,.23],[147.8,9.6,10.7,.23],[148.2,9.7,10.5,.18],[148.6,9.6,10.4,.23],[149,9.7,10.3,.18],
  [149.3,9.3,10.2,.28],[149.7,9.3,10.4,.28],[150,9.4,10.4,.33],[150.4,9.6,10.4,.28],[150.8,9.8,10.2,.33],[151.1,9.9,10.2,.18],[151.5,10.0,10.3,.33],[151.9,10.0,10.3,.33],[152.3,10.0,10.2,.28],[149.5,9.5,9.9,.23],
  [149.3,8.5,9.2,.18],[149.7,8.4,9.3,.13],[150,8.3,9.0,.23],[150.6,8.7,9.4,.13],[151,8.6,9.5,.08],[151.3,8.5,9.1,.18],[150.2,7.3,8.2,.18],
  [146.2,8.2,8.8,.03],[146.6,7.8,8.6,.13],[146.9,7.7,8.5,.03],[145.6,6.4,7.4,.13],[147.3,6.6,6.8,.03],[147.7,6.5,6.7,.03],
  [151.8,6.0,6.6,.03],[152.2,5.6,6.5,.13],[152.4,6.4,6.8,.03],[152.8,6.1,6.3,.03],[153.4,5.1,5.8,.33],[153.8,5.2,6.2,.13],[154.1,5.9,6.3,.03],[153.2,7.2,7.7,.03],[153.3,6.9,8.0,.03],
  [154.9,6.8,7.2,.03],[155.3,6.7,7.1,.03],[155.7,6.4,7.0,.03],[156.1,6.4,6.8,.13],[154.6,10.5,10.6,.23],[158.1,10.2,10.7,.13],[163.2,10.4,10.6,.13],[163.6,10.5,10.7,.33],[164,10.6,10.7,.28],[164.4,10.5,10.7,.33],[164.8,10.4,10.6,.33],[165.2,10.4,10.5,.23],[163.9,9.1,9.2,.23],[184.1,9.7,9.9,.33],
  [188.9,9.8,10.2,.18],[189.3,9.4,10.3,.28],[189.7,9.5,10.1,.33],[190,9.6,9.9,.23],[190.8,10.0,10.9,.18],[191.1,9.6,11.0,.23],[191.3,9.7,10.7,.13],
];

const eastGrainSpecks: Speck[] = [
  [112.1,10.0,.28],[112.5,10.2,.38],[112.8,9.8,.33],[113.2,9.7,.28],[113.5,9.9,.33],[113.9,10.1,.38],[114.2,9.9,.18],
  [117.1,9.8,.18],[117.5,9.2,.18],[117.8,9.0,.23],[118.1,9.3,.13],[118.5,9.7,.23],[118.9,9.6,.33],[119.1,9.4,.13],[119.4,9.2,.13],[119.6,8.8,.23],[119.8,9.5,.23],[120.2,9.1,.18],[120.3,8.5,.18],[120.5,9.0,.23],[120.6,8.4,.13],[120.9,9.1,.08],[121.1,8.7,.18],[122,8.2,.18],[123.8,7.2,.03],
  [124.2,9.6,.23],[124.5,9.0,.18],[124.7,8.1,.13],[125,8.9,.13],[125.1,8.0,.18],[125.6,7.3,.03],[126.2,7.4,.03],[126.6,7.0,.03],[127.2,6.9,.18],[128.2,6.9,.13],[128.6,7.5,.03],[129.2,6.9,.03],[129.7,7.0,.03],[130.1,6.6,.13],[130.6,6.9,.03],
  [130.3,9.3,.23],[130.7,9.0,.13],[131,9.2,.33],[131.3,9.0,.23],[131.6,8.8,.18],[131.9,8.2,.18],[132.1,8.0,.33],[132.2,7.6,.13],[132.6,7.3,.18],
  [133.3,9.0,.23],[133.4,9.3,.13],[133.7,9.0,.23],[133.9,8.8,.13],[134.2,8.6,.23],[134.5,8.2,.13],[134.6,8.5,.18],[134.9,8.2,.18],[135.2,8.4,.13],[135.3,8.0,.28],[135.6,8.2,.13],[135.9,8.4,.23],[136,9.0,.18],[136.5,8.8,.23],[136.6,8.9,.08],[136.9,9.2,.18],[137.2,8.8,.13],[137.3,9.3,.23],[137.6,8.4,.23],[137.8,8.8,.08],[138.3,9.7,.33],[138.6,9.5,.38],[139,9.8,.43],[139.3,9.4,.38],[139.7,9.8,.38],[140,9.5,.33],[140.5,9.1,.13],[140.9,8.9,.08],[141.2,8.6,.13],[141.3,9.0,.18],[141.6,8.2,.08],[141.9,8.7,.13],[142,8.3,.18],
  [144.9,10.3,.13],[145.2,10.0,.13],[145.6,10.4,.13],[145.9,10.1,.18],[146.2,10.3,.23],[146.6,10.1,.13],[147,10.2,.23],[147.3,10.1,.18],[147.6,10.2,.13],[148,10.0,.13],[148.4,10.1,.13],[148.8,9.9,.13],[149.4,9.8,.33],[149.8,9.8,.28],[150.2,9.9,.28],[150.5,10.0,.33],[149.5,8.8,.23],[149.9,8.6,.13],[150.4,8.9,.13],[150.9,9.0,.13],[151.2,9.2,.18],
  [189.2,10.0,.33],[189.5,9.8,.18],[190.9,10.4,.23],[191.2,10.3,.18],[191.4,10.0,.23],[159.9,6.2,.33],[160,5.7,.63],[160.1,6.3,.18],[160.2,5.3,.48],
];

const purpleLineCells: Cell[] = [
  [155.4,7.8,8.1,.03],[155.8,7.7,8.2,.03],[156.2,7.8,8.3,.03],[156.6,7.8,8.3,.03],[157,7.9,8.3,.03],[157.4,7.8,8.3,.03],[157.8,7.9,8.2,.03],[158.2,7.9,8.3,.03],[158.6,8.0,8.3,.03],[159,8.0,8.4,.03],[159.4,8.0,8.4,.03],[160.2,7.8,8.0,.03],[160.8,7.7,7.9,.03],
  [161.4,7.6,8.0,.03],[161.8,7.7,7.9,.03],[162.2,7.6,7.9,.03],[162.6,7.6,7.9,.03],[163,7.5,7.8,.03],[163.4,7.4,7.7,.03],[163.8,7.4,7.7,.08],[164.2,7.6,7.9,.08],[164.6,7.6,8.0,.08],[165,7.6,7.8,.03],[165.4,7.4,7.6,.03],[165.8,7.4,7.7,.08],[166.2,7.5,7.8,.08],[166.6,7.5,7.9,.08],[167,7.4,7.8,.08],[167.4,7.2,7.6,.03],[167.8,7.2,7.4,.03],[168.2,7.1,7.4,.03],[168.6,7.2,7.4,.03],[169,7.3,7.5,.03],[169.4,7.3,7.6,.08],[169.8,7.2,7.6,.08],[170.2,7.3,7.5,.13],[170.6,7.2,7.4,.08],[171,7.1,7.4,.03],[171.4,7.1,7.3,.03],[171.8,7.2,7.4,.03],[172.2,7.1,7.3,.03],[173,7.0,7.3,.08],[173.4,7.1,7.3,.08],[173.8,7.0,7.3,.13],[174.2,6.9,7.1,.03],[174.6,6.9,7.1,.03],[175,6.9,7.1,.03],[175.8,6.8,7.1,.03],[176.2,6.9,7.2,.08],[176.6,6.8,7.0,.03],
  [159.9,5.4,6.7,.13],[160,5.3,6.0,.33],[160.1,5.5,5.8,.58],[160.6,6.7,7.2,.03],[161,6.8,7.4,.03],[161.2,6.3,7.0,.13],[162.2,6.3,6.9,.03],[163,6.2,6.5,.03],[163.5,6.1,6.4,.03],
  [167.5,4.9,5.5,.13],[167.7,5.6,6.2,.03],[168,4.7,5.5,.28],[168.2,6.2,6.7,.03],
  [172,6.0,6.9,.03],[172.4,6.3,6.8,.03],[172.8,6.2,6.6,.13],[174.3,5.7,6.5,.03],[175,5.8,6.6,.03],[175.4,5.5,6.4,.03],[177.6,5.3,5.6,.03],
  [178.4,6.1,6.7,.03],[179,6.0,6.5,.13],[179.4,6.2,6.9,.03],[180,5.9,6.8,.03],[180.2,6.2,6.6,.03],[180.5,7.1,7.4,.13],[180.8,7.2,7.9,.13],[181.2,7.8,8.5,.13],[181.6,7.6,8.2,.08],[182.1,7.1,7.6,.13],[182.6,7.0,7.3,.08],
  [182.8,6.8,7.3,.03],[183.2,6.8,7.4,.03],[183.6,6.7,7.5,.03],[184,6.7,7.3,.03],[184.4,6.5,7.2,.03],[184.8,6.4,7.0,.03],[185.2,6.3,6.9,.03],[185.6,6.4,7.0,.03],[186,6.1,7.2,.03],[186.3,6.8,7.6,.08],[186.7,6.9,7.5,.13],[187.1,6.7,7.3,.03],[187.5,6.2,7.0,.03],[187.9,6.8,7.5,.03],[188.3,6.9,7.4,.03],[188.7,6.0,7.2,.03],[189.1,6.8,7.2,.03],[189.5,6.0,7.1,.03],[189.8,5.3,6.9,.08],[190.1,5.4,6.8,.13],[190.4,6.6,7.3,.03],[190.8,6.6,7.1,.03],[191.2,6.5,7.1,.03],
];

interface PanelSpec {
  spanMinutes: number;
  tickMinutes: number[];
  times: string[];
  positions: string[];
  cells: Cell[][];
  specks: Speck[][];
  title?: string;
  paddingTop: number;
  paddingBottom: number;
  topAxisHeight: number;
}

function bandColor(depol: number) {
  if (depol < 0) return depolColors[0];
  return depolColors[Math.floor(depol / 0.05) + 1];
}

const panelFrame = {
  id: 'panelFrame',
  afterDraw(chart: any) {
    const { ctx, chartArea, scales } = chart;
    ctx.save();
    ctx.strokeStyle = '#000';
    ctx.lineWidth = 1.3;
    ctx.beginPath();
    altitudeMinor.forEach((km) => {
      const y = Math.round(scales.y.getPixelForValue(km));
      ctx.moveTo(chartArea.left - 16, y);
      ctx.lineTo(chartArea.left, y);
      ctx.moveTo(chartArea.right, y);
      ctx.lineTo(chartArea.right + 16, y);
    });
    ctx.stroke();
    // IDL keeps the top label inside the axis span
    ctx.fillStyle = '#000';
    ctx.font = `bold 18px ${FONT}`;
    ctx.textAlign = 'right';
    ctx.textBaseline = 'middle';
    ctx.fillText('20', chartArea.left - 38, chartArea.top + 9);
    ctx.restore();
  },
};

const colorbarFrame = {
  id: 'colorbarFrame',
  afterDraw(chart: any) {
    const { ctx, chartArea, scales } = chart;
    ctx.save();
    ctx.strokeStyle = '#000';
    ctx.lineWidth = 1;
    ctx.strokeRect(chartArea.left, chartArea.top, chartArea.right - chartArea.left, chartArea.bottom - chartArea.top);
    ctx.beginPath();
    depolEdges.slice(0, -1).forEach((edge) => {
      const y = Math.round(scales.y.getPixelForValue(edge + 0.025));
      ctx.moveTo(chartArea.right - 4, y);
      ctx.lineTo(chartArea.right, y);
    });
    ctx.stroke();
    ctx.fillStyle = '#000';
    ctx.font = `bold 14px ${FONT}`;
    ctx.textAlign = 'left';
    ctx.textBaseline = 'middle';
    ctx.fillText('0.8', chartArea.right + 6, chartArea.top + 8);
    ctx.font = `bold 20px ${FONT}`;
    ctx.translate(1976, 498);
    ctx.rotate(-Math.PI / 2);
    ctx.textAlign = 'center';
    ctx.fillText('Depol Ratio', 0, 0);
    ctx.restore();
  },
};

function panelConfig(spec: PanelSpec): any {
  const setXTicks = (scale: any) => {
    scale.ticks = spec.tickMinutes.map((value) => ({ value }));
  };
  const setYTicks = (scale: any) => {
    scale.ticks = altitudeMajor.map((value) => ({ value }));
  };
  const axisLine = { color: '#000', width: 1.3 };
  return {
    type: 'scatter',
    data: {
      datasets: [
        ...spec.specks.map((specks) => ({
          type: 'scatter',
          data: specks.map(([x, y, depol]) => ({ x, y, depol })),
          pointStyle: 'rect',
          pointRadius: 1.15,
          pointBorderWidth: 0,
          backgroundColor: (ctx: any) => bandColor(ctx.raw?.depol ?? 0),
        })),
        ...spec.cells.map((cells) => ({
          type: 'bar',
          data: cells.map(([x, lo, hi, depol]) => ({ x, y: [lo, hi], depol })),
          barThickness: 3,
          grouped: false,
          borderWidth: 0,
          inflateAmount: 0,
          backgroundColor: (ctx: any) => bandColor(ctx.raw?.depol ?? 0),
        })),
      ],
    },
    options: {
      responsive: false,
      devicePixelRatio: 1,
      animation: false,
      events: [],
      layout: { autoPadding: false, padding: { left: 0, right: 0, top: spec.paddingTop, bottom: spec.paddingBottom } },
      plugins: {
        legend: { display: false },
        tooltip: { enabled: false },
        title: {
          display: !!spec.title,
          text: spec.title,
          color: '#000',
          font: { family: FONT, size: 20, weight: 'bold', lineHeight: 1 },
          padding: { top: 62, bottom: 5 },
        },
      },
      scales: {
        x: {
          type: 'linear',
          position: 'bottom',
          min: 0,
          max: spec.spanMinutes,
          offset: false,
          afterBuildTicks: setXTicks,
          afterFit: (s: any) => { s.height = 100; },
          border: axisLine,
          grid: { drawOnChartArea: false, offset: false, tickLength: 6, tickColor: '#000', tickWidth: 1.3 },
          ticks: {
            autoSkip: false,
            maxRotation: 0,
            minRotation: 0,
            padding: 18,
            color: '#000',
            font: { family: FONT, size: 18, weight: 'bold', lineHeight: 1.22 },
            callback: (_v: any, i: number) => [spec.times[i], spec.positions[i]],
          },
        },
        xTop: {
          type: 'linear',
          position: 'top',
          min: 0,
          max: spec.spanMinutes,
          afterBuildTicks: setXTicks,
          afterFit: (s: any) => { s.height = spec.topAxisHeight; },
          border: axisLine,
          grid: { drawOnChartArea: false, tickLength: 6, tickColor: '#000', tickWidth: 1.3 },
          ticks: { display: false },
        },
        y: {
          type: 'linear',
          position: 'left',
          min: -1,
          max: 20,
          afterBuildTicks: setYTicks,
          afterFit: (s: any) => { s.width = 200; },
          border: axisLine,
          grid: { drawOnChartArea: false, tickLength: 32, tickColor: '#000', tickWidth: 1.3 },
          ticks: {
            padding: 6,
            labelOffset: 3,
            color: '#000',
            font: { family: FONT, size: 18, weight: 'bold' },
            callback: (v: number) => (v === 20 ? '' : String(v)),
          },
          title: {
            display: true,
            text: 'Altitude (km)',
            color: '#000',
            font: { family: FONT, size: 17.5, weight: 'bold' },
            padding: { top: 107, bottom: 0 },
          },
        },
        yRight: {
          type: 'linear',
          position: 'right',
          min: -1,
          max: 20,
          afterBuildTicks: setYTicks,
          afterFit: (s: any) => { s.width = 221; },
          border: axisLine,
          grid: { drawOnChartArea: false, tickLength: 32, tickColor: '#000', tickWidth: 1.3 },
          ticks: { display: false },
        },
      },
    },
    plugins: [panelFrame],
  };
}

function colorbarConfig(): any {
  return {
    type: 'bar',
    data: {
      labels: ['Depol Ratio'],
      datasets: depolColors.map((color, i) => ({
        data: [[depolEdges[i], depolEdges[i + 1]]],
        backgroundColor: color,
        borderWidth: 0,
        grouped: false,
        barPercentage: 1,
        categoryPercentage: 1,
      })),
    },
    options: {
      responsive: false,
      devicePixelRatio: 1,
      animation: false,
      events: [],
      layout: { autoPadding: false, padding: { left: 1860, right: 0, top: 219, bottom: 161 } },
      plugins: { legend: { display: false }, tooltip: { enabled: false } },
      scales: {
        x: { display: false },
        y: {
          position: 'right',
          min: -0.05,
          max: 0.8,
          afterBuildTicks: (s: any) => { s.ticks = depolEdges.slice(1).map((value) => ({ value })); },
          afterFit: (s: any) => { s.width = 100; },
          border: { display: false },
          grid: { display: false, drawTicks: false },
          ticks: {
            padding: 6,
            labelOffset: 2,
            color: '#000',
            font: { family: FONT, size: 14, weight: 'bold' },
            callback: (_v: any, i: number) => (i === depolTickLabels.length - 1 ? '' : depolTickLabels[i]),
          },
        },
      },
    },
    plugins: [colorbarFrame],
  };
}

function ChartLayer({ config }: { config: any }) {
  const canvasRef = useRef<HTMLCanvasElement>(null);

  useEffect(() => {
    if (!canvasRef.current) return;
    const chart = new Chart(canvasRef.current, config);
    return () => chart.destroy();
  }, [config]);

  return <canvas ref={canvasRef} width={2000} height={1000} style={{ position: 'absolute', left: 0, top: 0, width: 2000, height: 1000 }} />;
}

const topConfig = panelConfig({
  spanMinutes: 191.08,
  tickMinutes: topTickMinutes,
  times: topTimes,
  positions: topPositions,
  cells: [westCells, fanCells, bodyCells, finCells, midCloudCells, nearCoreCells],
  specks: [bodyGrainSpecks, midGrainSpecks, nearWestClusterSpecks, farEastSpecks],
  title: 'ER-2 FIREX 06aug19 Depol Ratio',
  paddingTop: 0,
  paddingBottom: 441,
  topAxisHeight: 21,
});

const bottomConfig = panelConfig({
  spanMinutes: 191.47,
  tickMinutes: bottomTickMinutes,
  times: bottomTimes,
  positions: bottomPositions,
  cells: [lowWestCells, eastBandCellsA, eastBandCellsB, purpleLineCells],
  specks: [eastGrainSpecks, lowWestSpecks],
  paddingTop: 500,
  paddingBottom: 1,
  topAxisHeight: 48,
});

const barConfig = colorbarConfig();

export default function App() {
  return (
    <div style={{ position: 'absolute', left: 0, top: 0, width: 2000, height: 1000, background: '#fff' }}>
      <ChartLayer config={topConfig} />
      <ChartLayer config={bottomConfig} />
      <ChartLayer config={barConfig} />
    </div>
  );
}
